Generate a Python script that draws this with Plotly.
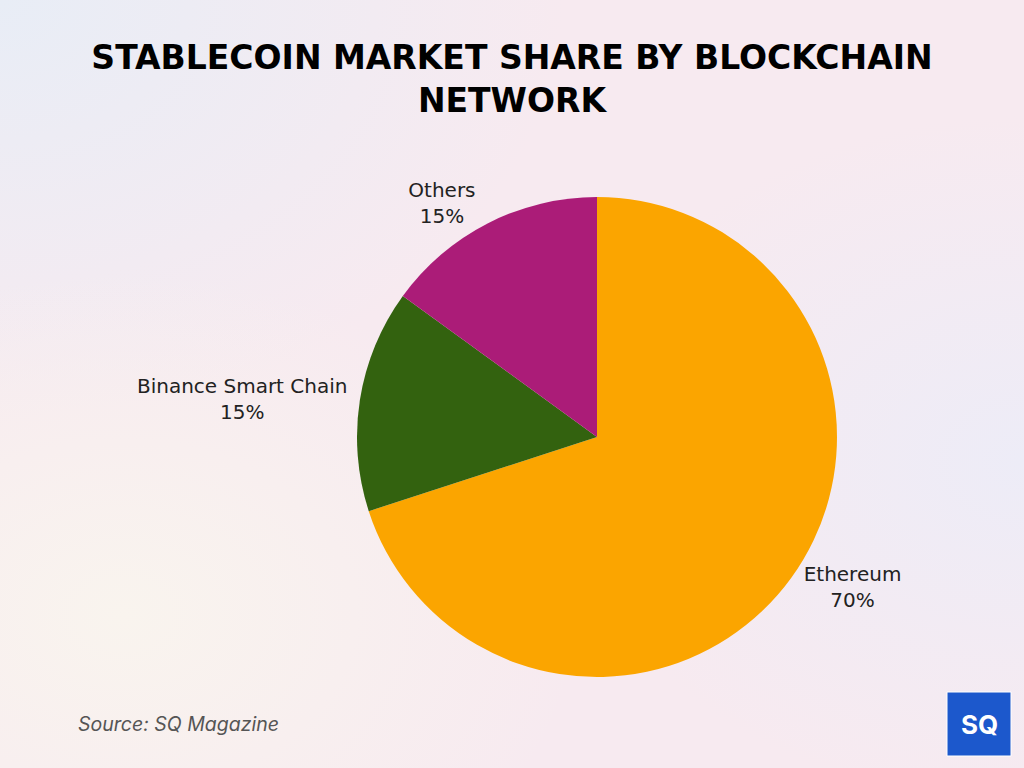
import urllib.parse
import plotly.graph_objects as go

labels = ["Ethereum", "Binance Smart Chain", "Others"]
values = [70, 15, 15]
colors = ["#FBA500", "#33620F", "#AB1C78"]

title_text = "STABLECOIN MARKET SHARE BY BLOCKCHAIN<br>NETWORK"
source_text = "Source: SQ Magazine"
logo_text = "SQ"

# soft gradient background as an inline SVG
bg_svg = (
    '<svg xmlns="http://www.w3.org/2000/svg" width="1024" height="768" viewBox="0 0 1024 768">'
    '<defs>'
    '<radialGradient id="tl" cx="0" cy="0" r="0.55"><stop offset="0" stop-color="#E8EDF6"/>'
    '<stop offset="1" stop-color="#E8EDF6" stop-opacity="0"/></radialGradient>'
    '<radialGradient id="bl" cx="0.12" cy="0.8" r="0.45"><stop offset="0" stop-color="#F9F4EE"/>'
    '<stop offset="1" stop-color="#F9F4EE" stop-opacity="0"/></radialGradient>'
    '<radialGradient id="rm" cx="1" cy="0.6" r="0.45"><stop offset="0" stop-color="#EDECF7"/>'
    '<stop offset="1" stop-color="#EDECF7" stop-opacity="0"/></radialGradient>'
    '<linearGradient id="lg" x1="0" y1="0" x2="1" y2="1"><stop offset="0" stop-color="#1E4FC0"/>'
    '<stop offset="1" stop-color="#2A7BE6"/></linearGradient>'
    '</defs>'
    '<rect width="1024" height="768" fill="#F7EAF0"/>'
    '<rect width="1024" height="768" fill="url(#tl)"/>'
    '<rect width="1024" height="768" fill="url(#bl)"/>'
    '<rect width="1024" height="768" fill="url(#rm)"/>'
    '</svg>'
)
bg_uri = "data:image/svg+xml;charset=utf-8," + urllib.parse.quote(bg_svg)

fig = go.Figure(go.Pie(
    labels=labels,
    values=values,
    sort=False,
    direction="clockwise",
    rotation=0,
    marker=dict(colors=colors, line=dict(width=0)),
    texttemplate="%{label}<br>%{percent:.0%}",
    textposition="outside",
    textfont=dict(family="DejaVu Sans, sans-serif", size=20, color="#222222"),
    hoverinfo="label+percent",
    showlegend=False,
    domain=dict(x=[357/1024, 837/1024], y=[1-677/768, 1-197/768]),
))

fig.update_layout(
    width=1024, height=768,
    margin=dict(l=0, r=0, t=0, b=0),
    paper_bgcolor="#F6EEF2",
    plot_bgcolor="#F6EEF2",
    title=dict(
        text=title_text,
        x=0.5, xanchor="center",
        y=1-69/768, yanchor="top",
        font=dict(family="DejaVu Sans, sans-serif", size=33, color="#000000", weight="bold"),
    ),
    images=[dict(source=bg_uri, xref="paper", yref="paper", x=0, y=1, sizex=1, sizey=1,
                 xanchor="left", yanchor="top", sizing="stretch", layer="below")],
    annotations=[
        dict(text=source_text, x=76/1024, y=1-724/768, xref="paper", yref="paper",
             xanchor="left", yanchor="middle", showarrow=False,
             font=dict(family="Inter, Open Sans, sans-serif", size=19.5, color="#555555", style="italic")),
        dict(text="<b>" + logo_text + "</b>", x=979/1024, y=1-724/768, xref="paper", yref="paper",
             xanchor="center", yanchor="middle", showarrow=False,
             font=dict(family="Inter, sans-serif", size=26, color="#FFFFFF")),
    ],
    shapes=[
        dict(type="rect", xref="paper", yref="paper",
             x0=947/1024, x1=1011/1024, y0=1-756/768, y1=1-692/768,
             fillcolor="#1C58CC", line=dict(color="#FFFFFF", width=1), layer="above"),
    ],
)

fig.write_html("out.html", config={"displayModeBar": False},
               post_script="document.body.style.margin='0';document.body.style.overflow='hidden';")
